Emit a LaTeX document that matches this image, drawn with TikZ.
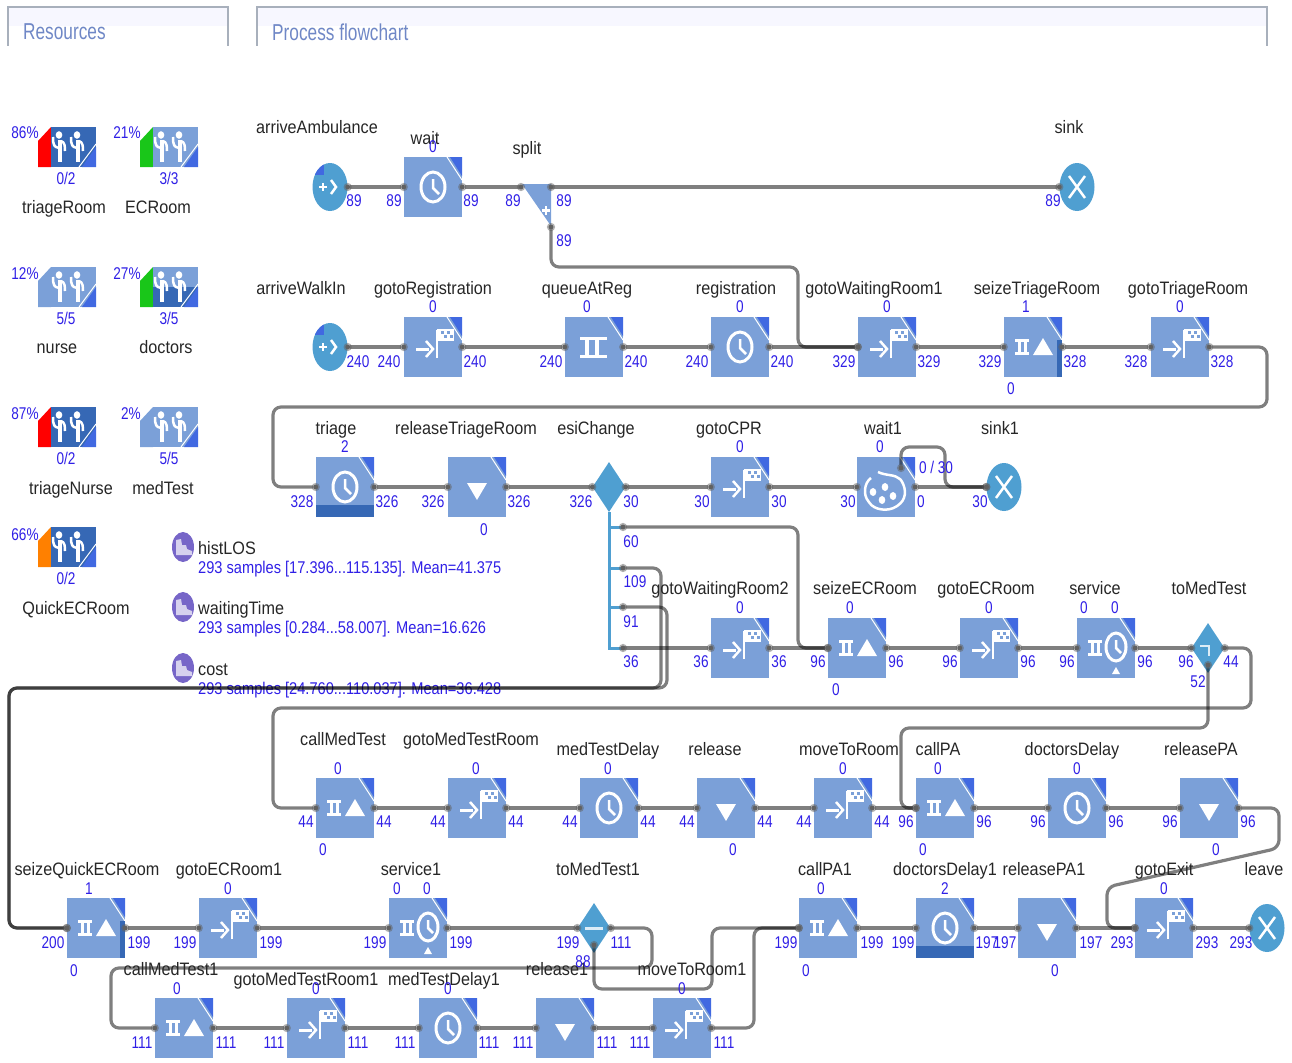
\documentclass[tikz,border=0pt]{standalone}
\usepackage{fontspec}
\setmainfont{Liberation Sans}
\newfontfamily\namefont[FakeStretch=0.9]{Liberation Sans}
\newfontfamily\countfont[FakeStretch=0.8]{Liberation Sans}
\newfontfamily\samplefont[FakeStretch=0.86]{Liberation Sans}
\newfontfamily\tabfont[FakeStretch=0.75]{Liberation Sans}
\usetikzlibrary{arrows.meta, calc, shapes.geometric}
\definecolor{flowblue}{HTML}{7BA0D8}
\definecolor{flowdark}{HTML}{3668B5}
\definecolor{notchblue}{HTML}{4169E1}
\definecolor{portblue}{HTML}{4F9FD1}
\definecolor{countblue}{HTML}{2F1FE6}
\definecolor{tabgray}{HTML}{A8B0BC}
\definecolor{tabtext}{HTML}{6F87C6}
\definecolor{histpurple}{HTML}{7766C8}
\tikzstyle{block} = [fill=flowblue, minimum width=58pt, minimum height=60pt, inner sep=0pt,
    path picture={
      \fill [notchblue] ([xshift=-12pt]path picture bounding box.north east)
        -- (path picture bounding box.north east)
        -- ([yshift=-19pt]path picture bounding box.north east) -- cycle;
      \draw [white, line width=1pt] ([xshift=-15pt]path picture bounding box.north east)
        -- ([yshift=-23pt]path picture bounding box.north east);}]
\tikzstyle{source} = [ellipse, fill=portblue, minimum width=35pt, minimum height=48pt, inner sep=0pt]
\tikzstyle{decide} = [diamond, fill=portblue, minimum width=33pt, minimum height=50pt, inner sep=0pt, aspect=0.66]
\tikzstyle{conn} = [draw=black, draw opacity=0.5, line width=3.2pt, rounded corners=8pt,
    {Circle[length=8pt, sep=-4pt, color=black!62]}-{Circle[length=8pt, sep=-4pt, color=black!62]}]
\tikzstyle{branch} = [draw=portblue, line width=3pt]
\tikzstyle{namelabel} = [inner sep=0pt, text height=13pt, text depth=0pt, text=black!85,
    font=\namefont\fontsize{18}{20}\selectfont]
\tikzstyle{countlabel} = [inner sep=0pt, text height=12pt, text depth=0pt, text=countblue,
    font=\countfont\fontsize{17}{19}\selectfont]
\tikzstyle{samplelabel} = [inner sep=0pt, anchor=west, text height=12pt, text depth=0pt, text=countblue,
    font=\samplefont\fontsize{17}{19}\selectfont]
\tikzstyle{tablabel} = [inner sep=0pt, anchor=west, text=tabtext, font=\tabfont\fontsize{23}{25}\selectfont]
\tikzset{
  clockicon/.pic={
    \draw [white, line width=3pt] (0,0) ellipse (12pt and 15pt);
    \draw [white, line width=2.5pt] (0,-8) -- (0,1) -- (6,7);},
  gotoicon/.pic={
    \draw [white, line width=3pt] (-17,2) -- (-4,2);
    \draw [white, line width=2.5pt] (-7,-6) -- (0,2) -- (-7,10);
    \draw [white, line width=2.5pt] (4,11) -- (4,-17);
    \fill [white] (4,-18) rectangle (21,-6);
    \foreach \cx/\cy in {8/-16, 14/-16, 11/-12, 17/-12}
      \fill [flowblue] (\cx,\cy) rectangle ++(3,3);},
  seizebar/.pic={
    \fill [white] (0,-8) rectangle ++(14,3);
    \fill [white] (0,5) rectangle ++(14,3);
    \fill [white] (3,-8) rectangle ++(3,16);
    \fill [white] (9,-8) rectangle ++(3,16);},
  seizeicon/.pic={
    \pic at (-18,0) {seizebar};
    \fill [white] (0,8) -- (20,8) -- (10,-9) -- cycle;},
  queueicon/.pic={
    \fill [white] (-14,-10) rectangle (13,-7);
    \fill [white] (-14,8) rectangle (13,11);
    \fill [white] (-9,-8) rectangle ++(3.5,17);
    \fill [white] (1,-8) rectangle ++(3.5,17);},
  releaseicon/.pic={
    \fill [white] (-10,-4) -- (10,-4) -- (0,13) -- cycle;},
  serviceicon/.pic={
    \pic at (-18,0) {seizebar};
    \draw [white, line width=3pt] (10,-1) ellipse (10pt and 14pt);
    \draw [white, line width=2.5pt] (10,-8) -- (10,0) -- (15,5);
    \fill [white] (6,26) -- (14,26) -- (10,19) -- cycle;},
  paletteicon/.pic={
    \draw [white, line width=2.5pt, rounded corners=1pt] (-15,-9) .. controls (-22,-4) and (-23,8) .. (-17,15)
      .. controls (-12,23) and (2,25) .. (11,19) .. controls (20,13) and (21,3) .. (15,-7)
      .. controls (9,-13) and (0,-11) .. (-8,-15);
    \foreach \cx/\cy in {-13/5, -1/0, 7/9, -4/13}
      \fill [white] (\cx,\cy) ellipse (3.3pt and 4pt);},
  sourceicon/.pic={
    \draw [white, line width=2.5pt] (-11,0) -- (-3,0) (-7,-4) -- (-7,4);
    \draw [white, line width=2.5pt] (1,-7) -- (6,0) -- (1,7);
    \begin{scope}
      \clip (0,0) ellipse (17.5pt and 24pt);
      \fill [notchblue] (-6,-24) -- (-6,-12) -- (-18,-12) -- (-18,-24) -- cycle;
    \end{scope}},
  sinkicon/.pic={
    \draw [white, line width=2.5pt] (-8,-11) -- (8,11) (8,-11) -- (-8,11);},
  peopleicon/.pic={
    \foreach \fx in {0,18} {
      \fill [white] (\fx+1,-12) ellipse (3.3pt and 3.8pt);
      \draw [white, line width=4.5pt] (\fx+2,-7) -- (\fx+2,15);
      \draw [white, line width=2.5pt] (\fx-5,-10) .. controls (\fx-5,-2) and (\fx-4,0) .. (\fx+1,1);
      \draw [white, line width=2.5pt] (\fx+3,-6) .. controls (\fx+7,-5) and (\fx+7,0) .. (\fx+7,4);}},
  histicon/.pic={
    \fill [histpurple] (0,0) ellipse (11pt and 15pt);
    \fill [white!70!histpurple] (-7,8) -- (-7,-7) -- (-2,-8) -- (-1,-2) -- (3,-2) -- (4,2) -- (9,4) -- (9,8) -- cycle;}
}

\begin{document}
\begin{tikzpicture}[x=1pt, y=-1pt]
  \useasboundingbox (0,0) rectangle (1292,1062);

  % Frames of the two areas
  \fill [blue!3] (9,7) rectangle (228,26);
  \fill [blue!3] (257,7) rectangle (1267,26);
  \draw [tabgray, line width=2.5pt] (8,46) -- (8,7) -- (228,7) -- (228,46);
  \draw [tabgray, line width=2.5pt] (257,46) -- (257,7) -- (1267,7) -- (1267,46);
  \node [tablabel] (resources) at (23,32) {Resources};
  \node [tablabel] (flowchart) at (272,32) {Process flowchart};

  % Resource pools
  \foreach \nm/\px/\py/\barcol/\bodycol in {triageRoom/38/127/red/flowdark, ECRoom/140/127/green!75!black!90/flowblue,
      nursePool/38/267/flowblue/flowblue, doctorsPool/140/267/green!75!black!90/flowblue,
      triageNursePool/38/407/red/flowdark, medTestPool/140/407/flowblue/flowblue,
      quickPool/38/527/orange/flowdark} {
    \fill [\barcol] (\px,\py+14) -- (\px+13,\py) -- (\px+13,\py+40) -- (\px,\py+40) -- cycle;
    \fill [\bodycol] (\px+13,\py) rectangle (\px+58,\py+40);
    \coordinate (\nm) at (\px+20,\py+20);
  }
  \fill [flowdark] (153,287) rectangle (198,307);
  \foreach \nm/\px/\py in {triageRoom/38/127, ECRoom/140/127, nursePool/38/267, doctorsPool/140/267,
      triageNursePool/38/407, medTestPool/140/407, quickPool/38/527} {
    \fill [notchblue] (\px+58,\py+40) -- (\px+58,\py+20) -- (\px+44,\py+40) -- cycle;
    \draw [white, line width=1pt] (\px+58,\py+17) -- (\px+41,\py+40);
    \pic at (\nm) {peopleicon};
  }
  \foreach \px/\py/\txt [count=\idx] in {25/133/86\%, 127/133/21\%, 25/273/12\%, 127/273/27\%, 25/413/87\%, 131/413/2\%, 25/534/66\%,
      66/178/{0/2}, 169/178/{3/3}, 66/318/{5/5}, 169/318/{3/5}, 66/458/{0/2}, 169/458/{5/5}, 66/578/{0/2}}
    \node [countlabel] (poolcount\idx) at (\px,\py) {\txt};
  \foreach \px/\py/\txt [count=\idx] in {64/207/triageRoom, 158/207/ECRoom, 57/347/nurse, 166/347/doctors,
      71/488/triageNurse, 163/488/medTest, 76/608/QuickECRoom}
    \node [namelabel] (poolname\idx) at (\px,\py) {\txt};

  % Statistics
  \foreach \py/\txt/\detail [count=\idx] in {547/histLOS/{293 samples [17.396...115.135]. Mean=41.375},
      607/waitingTime/{293 samples [0.284...58.007]. Mean=16.626},
      668/cost/{293 samples [24.760...110.037]. Mean=36.428}} {
    \pic at (183,\py) {histicon};
    \node [namelabel, anchor=west] (stat\idx) at (198,\py+1) {\txt};
    \node [samplelabel] (statvalue\idx) at (198,\py+20) {\detail};
  }

  % Place the blocks
  \node [source] (arriveAmbulance) at (330,187) {};
  \node [block] (wait) at (433,187) {};
  \fill [flowblue] (522,184) -- (551,184) -- (551,226) -- cycle;
  \coordinate (splitIn) at (521,187);
  \coordinate (splitOut) at (551,187);
  \coordinate (splitDown) at (551,227);
  \node [source] (sink) at (1077,187) {};
  \node [source] (arriveWalkIn) at (330,347) {};
  \node [block] (gotoRegistration) at (433,347) {};
  \node [block] (queueAtReg) at (594,347) {};
  \node [block] (registration) at (740,347) {};
  \node [block] (gotoWaitingRoom1) at (887,347) {};
  \node [block] (seizeTriageRoom) at (1033,347) {};
  \node [block] (gotoTriageRoom) at (1180,347) {};
  \node [block] (triage) at (345,487) {};
  \node [block] (releaseTriageRoom) at (477,487) {};
  \node [decide] (esiChange) at (609,487) {};
  \node [block] (gotoCPR) at (740,487) {};
  \node [block] (wait1) at (886,487) {};
  \coordinate (wait1Patience) at (901,468);
  \node [source] (sink1) at (1004,487) {};
  \coordinate (esi60) at (623,527);
  \coordinate (esi109) at (623,568);
  \coordinate (esi91) at (623,607);
  \coordinate (esi36) at (623,648);
  \node [block] (gotoWaitingRoom2) at (740,648) {};
  \node [block] (seizeECRoom) at (857,648) {};
  \node [block] (gotoECRoom) at (989,648) {};
  \node [block] (service) at (1106,648) {};
  \node [decide] (toMedTest) at (1208,648) {};
  \coordinate (toMedTestDown) at (1208,665);
  \node [block] (callMedTest) at (345,808) {};
  \node [block] (gotoMedTestRoom) at (477,808) {};
  \node [block] (medTestDelay) at (609,808) {};
  \node [block] (release) at (726,808) {};
  \node [block] (moveToRoom) at (843,808) {};
  \node [block] (callPA) at (945,808) {};
  \node [block] (doctorsDelay) at (1077,808) {};
  \node [block] (releasePA) at (1209,808) {};
  \node [block] (seizeQuickECRoom) at (96,928) {};
  \node [block] (gotoECRoom1) at (228,928) {};
  \node [block] (service1) at (418,928) {};
  \node [decide] (toMedTest1) at (594,928) {};
  \coordinate (toMedTest1Down) at (594,945);
  \node [block] (callPA1) at (828,928) {};
  \node [block] (doctorsDelay1) at (945,928) {};
  \node [block] (releasePA1) at (1047,928) {};
  \node [block] (gotoExit) at (1164,928) {};
  \node [source] (leave) at (1267,928) {};
  \node [block] (callMedTest1) at (184,1028) {};
  \node [block] (gotoMedTestRoom1) at (316,1028) {};
  \node [block] (medTestDelay1) at (448,1028) {};
  \node [block] (release1) at (565,1028) {};
  \node [block] (moveToRoom1) at (682,1028) {};

  % Busy strips
  \fill [flowdark] ([xshift=-5pt, yshift=-23pt]seizeTriageRoom.north east) rectangle (seizeTriageRoom.south east);
  \fill [flowdark] ([xshift=-5pt, yshift=-23pt]seizeQuickECRoom.north east) rectangle (seizeQuickECRoom.south east);
  \fill [flowdark] (triage.south west) rectangle ([yshift=12pt]triage.south east);
  \fill [flowdark] (doctorsDelay1.south west) rectangle ([yshift=12pt]doctorsDelay1.south east);

  % Icons
  \foreach \nm in {arriveAmbulance, arriveWalkIn} \pic at (\nm) {sourceicon};
  \foreach \nm in {sink, sink1, leave} \pic at (\nm) {sinkicon};
  \foreach \nm in {wait, registration, triage, medTestDelay, doctorsDelay, doctorsDelay1, medTestDelay1}
    \pic at (\nm) {clockicon};
  \foreach \nm in {gotoRegistration, gotoWaitingRoom1, gotoTriageRoom, gotoCPR, gotoWaitingRoom2, gotoECRoom,
      gotoMedTestRoom, moveToRoom, gotoECRoom1, gotoExit, gotoMedTestRoom1, moveToRoom1}
    \pic at (\nm) {gotoicon};
  \foreach \nm in {seizeTriageRoom, seizeECRoom, callMedTest, callPA, seizeQuickECRoom, callPA1, callMedTest1}
    \pic at (\nm) {seizeicon};
  \foreach \nm in {releaseTriageRoom, release, releasePA, releasePA1, release1}
    \pic at (\nm) {releaseicon};
  \foreach \nm in {service, service1} \pic at (\nm) {serviceicon};
  \pic at (queueAtReg) {queueicon};
  \pic at (wait1) {paletteicon};
  \draw [white, line width=2.5pt] (546,206) -- (546,215) (542,210.5) -- (550,210.5);
  \draw [white!80!portblue, line width=2.5pt] (1200,646) -- (1209,646) -- (1209,656);
  \draw [white!80!portblue, line width=3pt] (585,928) -- (603,928);

  % Connect the nodes
  \draw [branch] (esiChange.south) |- (esi60);
  \draw [branch] (esiChange.south) |- (esi109);
  \draw [branch] (esiChange.south) |- (esi91);
  \draw [branch] (esiChange.south) |- (esi36);
  \draw [conn] (arriveAmbulance.east) -- (wait.west);
  \draw [conn] (wait.east) -- (splitIn);
  \draw [conn] (splitOut) -- (sink.west);
  \draw [conn] (splitDown) -- (551,267) -- (798,267) -- (798,347) -- (gotoWaitingRoom1.west);
  \draw [conn] (arriveWalkIn.east) -- (gotoRegistration.west);
  \draw [conn] (gotoRegistration.east) -- (queueAtReg.west);
  \draw [conn] (queueAtReg.east) -- (registration.west);
  \draw [conn] (registration.east) -- (gotoWaitingRoom1.west);
  \draw [conn] (gotoWaitingRoom1.east) -- (seizeTriageRoom.west);
  \draw [conn] (seizeTriageRoom.east) -- (gotoTriageRoom.west);
  \draw [conn] (gotoTriageRoom.east) -- (1267,347) -- (1267,407) -- (273,407) -- (273,487) -- (triage.west);
  \draw [conn] (triage.east) -- (releaseTriageRoom.west);
  \draw [conn] (releaseTriageRoom.east) -- (esiChange.west);
  \draw [conn] (esiChange.east) -- (gotoCPR.west);
  \draw [conn] (gotoCPR.east) -- (wait1.west);
  \draw [conn] (wait1.east) -- (sink1.west);
  \draw [conn] (wait1Patience) -- (901,447) -- (945,447) -- (945,487) -- (sink1.west);
  \draw [conn] (esi60) -- (798,527) -- (798,648) -- (seizeECRoom.west);
  \draw [conn] (esi109) -- (661,568) -- (661,688) -- (9,688) -- (9,928) -- (seizeQuickECRoom.west);
  \draw [conn] (esi91) -- (667,607) -- (667,688) -- (9,688) -- (9,928) -- (seizeQuickECRoom.west);
  \draw [conn] (esi36) -- (gotoWaitingRoom2.west);
  \draw [conn] (gotoWaitingRoom2.east) -- (seizeECRoom.west);
  \draw [conn] (seizeECRoom.east) -- (gotoECRoom.west);
  \draw [conn] (gotoECRoom.east) -- (service.west);
  \draw [conn] (service.east) -- (toMedTest.west);
  \draw [conn] (toMedTest.east) -- (1251,648) -- (1251,708) -- (273,708) -- (273,808) -- (callMedTest.west);
  \draw [conn] (toMedTestDown) -- (1208,728) -- (901,728) -- (901,808) -- (callPA.west);
  \draw [conn] (callMedTest.east) -- (gotoMedTestRoom.west);
  \draw [conn] (gotoMedTestRoom.east) -- (medTestDelay.west);
  \draw [conn] (medTestDelay.east) -- (release.west);
  \draw [conn] (release.east) -- (moveToRoom.west);
  \draw [conn] (moveToRoom.east) -- (callPA.west);
  \draw [conn] (callPA.east) -- (doctorsDelay.west);
  \draw [conn] (doctorsDelay.east) -- (releasePA.west);
  \draw [conn] (releasePA.east) -- (1279,808) -- (1279,848) -- (1107,887) -- (1107,928) -- (gotoExit.west);
  \draw [conn] (seizeQuickECRoom.east) -- (gotoECRoom1.west);
  \draw [conn] (gotoECRoom1.east) -- (service1.west);
  \draw [conn] (service1.east) -- (toMedTest1.west);
  \draw [conn] (toMedTest1.east) -- (652,928) -- (652,968) -- (111,968) -- (111,1028) -- (callMedTest1.west);
  \draw [conn] (toMedTest1Down) -- (594,989) -- (712,989) -- (712,928) -- (callPA1.west);
  \draw [conn] (callPA1.east) -- (doctorsDelay1.west);
  \draw [conn] (doctorsDelay1.east) -- (releasePA1.west);
  \draw [conn] (releasePA1.east) -- (gotoExit.west);
  \draw [conn] (gotoExit.east) -- (leave.west);
  \draw [conn] (callMedTest1.east) -- (gotoMedTestRoom1.west);
  \draw [conn] (gotoMedTestRoom1.east) -- (medTestDelay1.west);
  \draw [conn] (medTestDelay1.east) -- (release1.west);
  \draw [conn] (release1.east) -- (moveToRoom1.west);
  \draw [conn] (moveToRoom1.east) -- (754,1028) -- (754,928) -- (callPA1.west);

  % Block names
  \foreach \px/\py/\txt [count=\idx] in {317/127/arriveAmbulance, 425/138/wait, 527/148/split, 1069/127/sink,
      301/288/arriveWalkIn, 433/288/gotoRegistration, 587/288/queueAtReg, 736/288/registration,
      874/288/gotoWaitingRoom1, 1037/288/seizeTriageRoom, 1188/288/gotoTriageRoom,
      336/428/triage, 466/428/releaseTriageRoom, 596/428/esiChange, 729/428/gotoCPR, 883/428/wait1, 1000/428/sink1,
      720/588/gotoWaitingRoom2, 865/588/seizeECRoom, 986/588/gotoECRoom, 1095/588/service, 1209/588/toMedTest,
      343/739/callMedTest, 471/739/gotoMedTestRoom, 608/749/medTestDelay, 715/749/release, 849/749/moveToRoom,
      938/749/callPA, 1072/749/doctorsDelay, 1201/749/releasePA,
      87/869/seizeQuickECRoom, 229/869/gotoECRoom1, 411/869/service1, 598/869/toMedTest1, 825/869/callPA1,
      945/869/doctorsDelay1, 1044/869/releasePA1, 1164/869/gotoExit, 1264/869/leave,
      171/969/callMedTest1, 306/979/gotoMedTestRoom1, 444/979/medTestDelay1, 557/969/release1, 692/969/moveToRoom1}
    \node [namelabel] (name\idx) at (\px,\py) {\txt};

  % Queue and delay counts
  \foreach \px/\py/\txt [count=\idx] in {433/147/0, 433/306/0, 587/306/0, 740/306/0, 887/306/0, 1026/306/1, 1180/306/0, 1011/388/0,
      345/446/2, 740/446/0, 880/446/0, 484/529/0,
      740/607/0, 850/607/0, 989/607/0, 1084/607/0, 1115/607/0, 836/689/0,
      338/768/0, 476/768/0, 608/768/0, 843/768/0, 938/768/0, 1077/768/0,
      323/849/0, 733/849/0, 923/849/0, 1216/849/0,
      89/888/1, 228/888/0, 397/888/0, 427/888/0, 821/888/0, 945/888/2, 1164/888/0,
      74/970/0, 806/970/0, 1055/970/0,
      177/988/0, 316/988/0, 448/988/0, 682/988/0, 583/961/88, 1198/681/52,
      631/541/60, 635/581/109, 631/621/91, 631/661/36, 564/240/89}
    \node [countlabel] (count\idx) at (\px,\py) {\txt};
  \node [countlabel] (patienceCount) at (936,467) {0 / 30};

  % Port counts, row by row
  \foreach \px/\txt [count=\idx] in {354/89, 394/89, 471/89, 513/89, 564/89, 1053/89}
    \node [countlabel] (rowa\idx) at (\px,200) {\txt};
  \foreach \px/\txt [count=\idx] in {358/240, 389/240, 475/240, 551/240, 636/240, 697/240, 782/240,
      844/329, 929/329, 990/329, 1075/328, 1136/328, 1222/328}
    \node [countlabel] (rowb\idx) at (\px,361) {\txt};
  \foreach \px/\txt [count=\idx] in {302/328, 387/326, 433/326, 519/326, 581/326, 631/30, 702/30, 779/30, 848/30, 921/0, 980/30}
    \node [countlabel] (rowc\idx) at (\px,501) {\txt};
  \foreach \px/\txt [count=\idx] in {701/36, 779/36, 818/96, 896/96, 950/96, 1028/96, 1067/96, 1145/96, 1186/96, 1231/44}
    \node [countlabel] (rowd\idx) at (\px,661) {\txt};
  \foreach \px/\txt [count=\idx] in {306/44, 384/44, 438/44, 516/44, 570/44, 648/44, 687/44, 765/44, 804/44, 882/44,
      906/96, 984/96, 1038/96, 1116/96, 1170/96, 1248/96}
    \node [countlabel] (rowe\idx) at (\px,821) {\txt};
  \foreach \px/\txt [count=\idx] in {53/200, 139/199, 185/199, 271/199, 375/199, 461/199, 568/199, 621/111, 786/199, 872/199,
      903/199, 987/197, 1005/197, 1091/197, 1122/293, 1207/293, 1241/293}
    \node [countlabel] (rowf\idx) at (\px,942) {\txt};
  \foreach \px [count=\idx] in {142, 226, 274, 358, 405, 489, 523, 607, 640, 724}
    \node [countlabel] (rowg\idx) at (\px,1042) {111};
\end{tikzpicture}
\end{document}
